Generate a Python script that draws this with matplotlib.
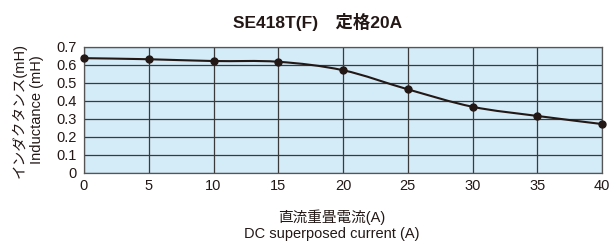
import matplotlib
matplotlib.use("Agg")
import matplotlib.pyplot as plt
from matplotlib.path import Path
from matplotlib.patches import PathPatch

plt.rcParams['font.family'] = ['Liberation Sans', 'Noto Sans CJK JP', 'DejaVu Sans']

title = "SE418T(F)\u3000定格20A"
current = [0, 5, 10, 15, 20, 25, 30, 35, 40]
inductance = [0.638, 0.632, 0.622, 0.618, 0.571, 0.465, 0.368, 0.317, 0.272]
xticks = [0, 5, 10, 15, 20, 25, 30, 35, 40]
yticks = [0, 0.1, 0.2, 0.3, 0.4, 0.5, 0.6, 0.7]
ytick_labels = ["0", "0.1", "0.2", "0.3", "0.4", "0.5", "0.6", "0.7"]
xlabel_ja = "直流重畳電流(A)"
xlabel_en = "DC superposed current (A)"
ylabel_ja = "インダクタンス(mH)"
ylabel_en = "Inductance (mH)"

W, H = 610, 244
fig = plt.figure(figsize=(6.1, 2.44), dpi=100)
ax = fig.add_axes([84/W, 1-173/H, (602-84)/W, (173-47)/H])
ax.set_facecolor('#d4ebf8')
ax.set_xlim(0, 40)
ax.set_ylim(0, 0.7)
ax.set_xticks(xticks)
ax.set_yticks(yticks)
ax.set_yticklabels(ytick_labels)
ax.tick_params(length=0, labelsize=10.5, colors='#231815', pad=4)
ax.tick_params(axis='y', pad=5)
ax.grid(True, color='#3a3a3a', linewidth=0.9)
ax.set_axisbelow(True)
for s in ax.spines.values():
    s.set_color('#555555')
    s.set_linewidth(0.9)

# smooth curve through the points (Catmull-Rom as cubic Bezier segments)
verts = [(current[0], inductance[0])]
codes = [Path.MOVETO]
n = len(current)
for i in range(n - 1):
    x0, y0 = (current[i-1], inductance[i-1]) if i > 0 else (current[i], inductance[i])
    x1, y1 = current[i], inductance[i]
    x2, y2 = current[i+1], inductance[i+1]
    x3, y3 = (current[i+2], inductance[i+2]) if i + 2 < n else (x2, y2)
    c1 = (x1 + (x2 - x0) / 6, y1 + (y2 - y0) / 6)
    c2 = (x2 - (x3 - x1) / 6, y2 - (y3 - y1) / 6)
    verts += [c1, c2, (x2, y2)]
    codes += [Path.CURVE4, Path.CURVE4, Path.CURVE4]
ax.add_patch(PathPatch(Path(verts, codes), facecolor='none', edgecolor='#231815',
                       linewidth=1.5, zorder=3, clip_on=False))
ax.plot(current, inductance, 'o', color='#231815', markersize=5, zorder=4, clip_on=False)

tc = '#231815'
fig.text(318/W, 1-22/H, title, fontsize=12.5, fontweight='bold', color=tc,
         ha='center', va='center')
fig.text(332/W, 1-217/H, xlabel_ja, fontsize=10.5, color=tc, ha='center', va='center')
fig.text(332/W, 1-234/H, xlabel_en, fontsize=10.5, color=tc, ha='center', va='center')
fig.text(19/W, 1-110/H, ylabel_ja, fontsize=10.5, color=tc, ha='center', va='center',
         rotation=90)
fig.text(37/W, 1-110/H, ylabel_en, fontsize=10.5, color=tc, ha='center', va='center',
         rotation=90)

fig.savefig("out.png", dpi=100)
